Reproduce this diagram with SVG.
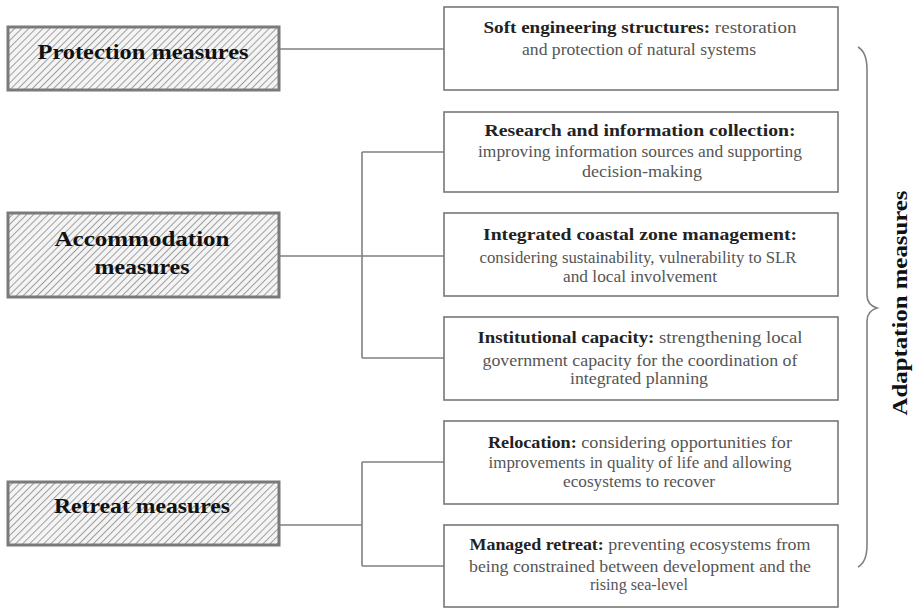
<svg xmlns="http://www.w3.org/2000/svg" width="913" height="608" viewBox="0 0 913 608">
<defs>
<pattern id="hatch" width="5" height="5" patternUnits="userSpaceOnUse" patternTransform="rotate(45)">
<rect width="5" height="5" fill="#f4f4f4"/>
<line x1="0" y1="0" x2="0" y2="5" stroke="#8a8a8a" stroke-width="1.6"/>
</pattern>
</defs>
<style>
.cat{fill:url(#hatch);stroke:#7a7a7a;stroke-width:3}
.box{fill:#fff;stroke:#777;stroke-width:1.6}
.ct{font-family:"Liberation Serif",serif;font-size:22px;font-weight:bold;fill:#111;text-anchor:middle}
.t{font-family:"Liberation Serif",serif;font-size:16px;fill:#555;text-anchor:middle}
.b{font-weight:bold;fill:#222}
.conn{fill:none;stroke:#808080;stroke-width:1.6}
</style>
<rect width="913" height="608" fill="#fff"/>
<g id="connectors">
<path class="conn" d="M279,49 H444"/>
<path class="conn" d="M279,256 H444 M362,152 V358 M362,152 H444 M362,358 H444"/>
<path class="conn" d="M279,525 H362 M362,462 V566 M362,462 H444 M362,566 H444"/>
<path class="conn" d="M858,47 Q867,52 867,70 L867,295 Q867,305 877,308 Q867,311 867,321 L867,545 Q867,562 858,567"/>
</g>
<g id="protection"><rect class="cat" x="8" y="27" width="271" height="63"/><text class="ct" x="143" y="59" textLength="211" lengthAdjust="spacingAndGlyphs">Protection measures</text></g>
<g id="accommodation"><rect class="cat" x="8" y="213" width="271" height="84"/><text class="ct" x="142" y="246" textLength="175" lengthAdjust="spacingAndGlyphs">Accommodation</text><text class="ct" x="142" y="274" textLength="95" lengthAdjust="spacingAndGlyphs">measures</text></g>
<g id="retreat"><rect class="cat" x="8" y="482" width="271" height="63"/><text class="ct" x="142" y="513" textLength="176" lengthAdjust="spacingAndGlyphs">Retreat measures</text></g>
<g id="soft"><rect class="box" x="444" y="7" width="394" height="83"/>
<text class="t" x="640" y="33" textLength="313" lengthAdjust="spacingAndGlyphs"><tspan class="b">Soft engineering structures:</tspan> restoration</text>
<text class="t" x="639" y="55" textLength="234" lengthAdjust="spacingAndGlyphs">and protection of natural systems</text></g>
<g id="research"><rect class="box" x="444" y="112" width="394" height="80"/>
<text class="t b" x="640" y="136" textLength="311" lengthAdjust="spacingAndGlyphs">Research and information collection:</text>
<text class="t" x="640" y="157" textLength="324" lengthAdjust="spacingAndGlyphs">improving information sources and supporting</text>
<text class="t" x="642" y="177" textLength="120" lengthAdjust="spacingAndGlyphs">decision-making</text></g>
<g id="iczm"><rect class="box" x="444" y="213" width="394" height="83"/>
<text class="t b" x="640" y="240" textLength="314" lengthAdjust="spacingAndGlyphs">Integrated coastal zone management:</text>
<text class="t" x="638" y="263" textLength="317" lengthAdjust="spacingAndGlyphs">considering sustainability, vulnerability to SLR</text>
<text class="t" x="640" y="282" textLength="154" lengthAdjust="spacingAndGlyphs">and local involvement</text></g>
<g id="institutional"><rect class="box" x="444" y="317" width="394" height="83"/>
<text class="t" x="640" y="343" textLength="325" lengthAdjust="spacingAndGlyphs"><tspan class="b">Institutional capacity:</tspan> strengthening local</text>
<text class="t" x="640" y="366" textLength="315" lengthAdjust="spacingAndGlyphs">government capacity for the coordination of</text>
<text class="t" x="639" y="384" textLength="138" lengthAdjust="spacingAndGlyphs">integrated planning</text></g>
<g id="relocation"><rect class="box" x="444" y="421" width="394" height="83"/>
<text class="t" x="640" y="448" textLength="304" lengthAdjust="spacingAndGlyphs"><tspan class="b">Relocation:</tspan> considering opportunities for</text>
<text class="t" x="640" y="468" textLength="303" lengthAdjust="spacingAndGlyphs">improvements in quality of life and allowing</text>
<text class="t" x="639" y="487" textLength="152" lengthAdjust="spacingAndGlyphs">ecosystems to recover</text></g>
<g id="managed"><rect class="box" x="444" y="525" width="394" height="82"/>
<text class="t" x="640" y="550" textLength="341" lengthAdjust="spacingAndGlyphs"><tspan class="b">Managed retreat:</tspan> preventing ecosystems from</text>
<text class="t" x="640" y="572" textLength="342" lengthAdjust="spacingAndGlyphs">being constrained between development and the</text>
<text class="t" x="639" y="590" textLength="98" lengthAdjust="spacingAndGlyphs">rising sea-level</text></g>
<g id="adaptation"><text class="ct" transform="translate(907,303) rotate(-90)" style="font-size:21px" textLength="225" lengthAdjust="spacingAndGlyphs">Adaptation measures</text></g>
</svg>
